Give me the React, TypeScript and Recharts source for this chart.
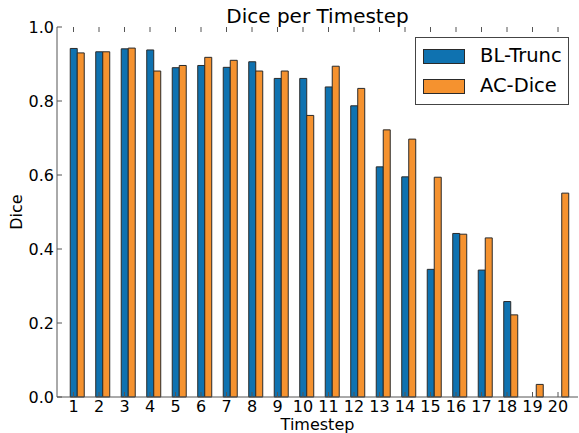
import { BarChart, Bar, XAxis, YAxis, Label } from 'recharts';

const timesteps = ['1', '2', '3', '4', '5', '6', '7', '8', '9', '10', '11', '12', '13', '14', '15', '16', '17', '18', '19', '20'];
const blTrunc = [0.942, 0.933, 0.941, 0.938, 0.89, 0.896, 0.891, 0.906, 0.861, 0.861, 0.838, 0.787, 0.622, 0.595, 0.345, 0.442, 0.343, 0.258, 0, 0];
const acDice = [0.93, 0.933, 0.943, 0.881, 0.896, 0.918, 0.91, 0.881, 0.881, 0.761, 0.894, 0.834, 0.722, 0.697, 0.594, 0.44, 0.43, 0.222, 0.034, 0.551];
const yTicks = [0, 0.2, 0.4, 0.6, 0.8, 1.0];
const seriesNames = ['BL-Trunc', 'AC-Dice'];

const data = timesteps.map((t, i) => ({ t, bl: blTrunc[i], ac: acDice[i] }));

const FONT = '"DejaVu Sans", sans-serif';
const AXIS = '#555';
const BLUE = '#0f72b0';
const ORANGE = '#f5922f';
const EDGE = '#2a2a2a';
const TOP = 27;
const BOTTOM = 397;

function XTick(props: any) {
  const { x, y, payload } = props;
  const cx = x - 3.25;
  return (
    <g>
      <line x1={cx} x2={cx} y1={BOTTOM} y2={BOTTOM - 5} stroke={AXIS} />
      <line x1={cx} x2={cx} y1={TOP} y2={TOP + 5} stroke={AXIS} />
      <text x={cx} y={y} dy="0.71em" textAnchor="middle" fontSize={16} fontFamily={FONT} fill="#000">
        {payload.value}
      </text>
    </g>
  );
}

function LegendBox() {
  const colors = [BLUE, ORANGE];
  return (
    <div
      style={{
        position: 'absolute',
        left: 415,
        top: 37,
        width: 152,
        height: 66,
        border: '1px solid #444',
        background: '#fff',
        fontFamily: FONT,
        fontSize: 19.5,
      }}
    >
      {seriesNames.map((name, i) => (
        <div key={name} style={{ position: 'absolute', left: 7, top: 10 + i * 30, display: 'flex', alignItems: 'center', height: 16 }}>
          <div style={{ width: 40, height: 13, background: colors[i], border: `1px solid ${EDGE}` }} />
          <span style={{ marginLeft: 15, lineHeight: '16px', color: '#000' }}>{name}</span>
        </div>
      ))}
    </div>
  );
}

export default function App() {
  return (
    <div style={{ position: 'absolute', left: 0, top: 0, width: 579, height: 433, background: '#fff', overflow: 'hidden' }}>
      <BarChart
        width={579}
        height={433}
        data={data}
        margin={{ top: TOP, right: 1, left: 0, bottom: 0 }}
        barCategoryGap="24.5%"
        barGap={0}
      >
        <XAxis
          dataKey="t"
          interval={0}
          height={36}
          padding={{ left: 7, right: 4 }}
          tickLine={false}
          tickSize={0}
          tickMargin={4}
          stroke={AXIS}
          tick={<XTick />}
        >
          <Label
            content={(p: any) => (
              <text x={p.viewBox.x + p.viewBox.width / 2} y={430} textAnchor="middle" fontSize={16} fontFamily={FONT} fill="#000">
                Timestep
              </text>
            )}
          />
        </XAxis>
        <XAxis
          xAxisId="top"
          orientation="top"
          dataKey="t"
          height={0}
          tick={false}
          tickLine={false}
          stroke={AXIS}
        />
        <YAxis
          width={57}
          domain={[0, 1]}
          ticks={yTicks}
          tickFormatter={(v: number) => v.toFixed(1)}
          tickSize={-5}
          tickMargin={8}
          stroke={AXIS}
          tick={{ fill: '#000', fontSize: 16, fontFamily: FONT }}
        >
          <Label
            content={(p: any) => {
              const cy = p.viewBox.y + p.viewBox.height / 2;
              return (
                <text x={22} y={cy} transform={`rotate(-90, 22, ${cy})`} textAnchor="middle" fontSize={16} fontFamily={FONT} fill="#000">
                  Dice
                </text>
              );
            }}
          />
        </YAxis>
        <YAxis
          yAxisId="right"
          orientation="right"
          width={0}
          domain={[0, 1]}
          ticks={yTicks}
          tick={false}
          tickSize={-5}
          stroke={AXIS}
        />
        <Bar dataKey="bl" name={seriesNames[0]} fill={BLUE} stroke={EDGE} strokeWidth={1} isAnimationActive={false} />
        <Bar dataKey="ac" name={seriesNames[1]} fill={ORANGE} stroke={EDGE} strokeWidth={1} isAnimationActive={false} />
      </BarChart>
      <svg width={579} height={30} style={{ position: 'absolute', left: 0, top: 0, pointerEvents: 'none' }}>
        <text x={317.5} y={23} textAnchor="middle" fontSize={20} fontFamily={FONT} fill="#000">
          Dice per Timestep
        </text>
      </svg>
      <LegendBox />
    </div>
  );
}
